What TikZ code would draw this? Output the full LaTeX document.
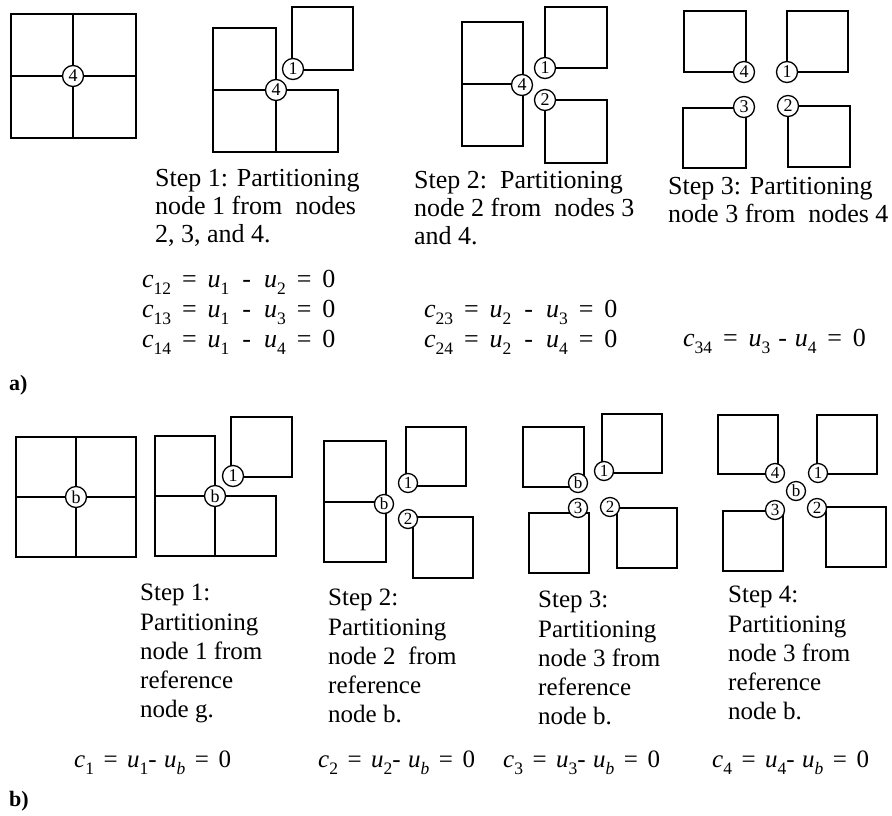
\documentclass[tikz,border=0pt]{standalone}
\usepackage{fontspec}
\setmainfont{Liberation Serif}

% variable with a lowered index, e.g. c_{12}
\newcommand{\sv}[2]{\textit{#1}\raisebox{-0.3em}{\fontsize{17.5}{17.5}\selectfont #2}}
\newcommand{\eqs}{\hspace{0.42em}=\hspace{0.42em}}
\newcommand{\eqb}{\hspace{0.38em}=\hspace{0.38em}}

\tikzset{
  cell/.style={draw, line width=1.6pt, line cap=rect},
  pin/.style={circle, draw, fill=white, line width=1.3pt, inner sep=0pt,
              minimum size=21pt, font=\fontsize{18}{18}\selectfont},
  pinsm/.style={pin, minimum size=19pt, font=\fontsize{17}{17}\selectfont},
  toptext/.style={anchor=north west, align=left, inner sep=0pt,
                  font=\fontsize{26}{28}\selectfont},
  bottext/.style={anchor=north west, align=left, inner sep=0pt,
                  font=\fontsize{25}{29.3}\selectfont},
  eqtop/.style={anchor=base west, inner sep=0pt, font=\fontsize{26}{28}\selectfont},
  eqbot/.style={anchor=base west, inner sep=0pt, font=\fontsize{25}{28}\selectfont},
  tag/.style={anchor=base west, inner sep=0pt, font=\bfseries\fontsize{22}{22}\selectfont}
}

\begin{document}
\begin{tikzpicture}[x=1pt, y=-1pt]
\path[use as bounding box] (0,0) rectangle (892,815);

% ---------------- a) four-node partitioning ----------------
% initial mesh
\draw[cell] (11,14) rectangle (136,138);
\draw[cell] (73,14) -- (73,138) (11,76) -- (136,76);
\node[pin] (a1n4) at (73,76) {4};

% step 1
\draw[cell] (213,28) rectangle (276,152);
\draw[cell] (213,90) -- (338,90) -- (338,152) -- (276,152);
\draw[cell] (292,7) rectangle (353,70);
\node[pin] (a2n4) at (276,90) {4};
\node[pin] (a2n1) at (293,69) {1};
\node[toptext] (a2t) at (155,169) {Step 1: Partitioning\\node 1 from\ \ nodes\\2, 3, and 4.};
\node[eqtop] (a2e1) at (142,287) {\sv{c}{12}\eqs\sv{u}{1}\hspace{0.5em}-\hspace{0.5em}\sv{u}{2}\eqs0};
\node[eqtop] (a2e2) at (142,317) {\sv{c}{13}\eqs\sv{u}{1}\hspace{0.5em}-\hspace{0.5em}\sv{u}{3}\eqs0};
\node[eqtop] (a2e3) at (142,347) {\sv{c}{14}\eqs\sv{u}{1}\hspace{0.5em}-\hspace{0.5em}\sv{u}{4}\eqs0};

% step 2
\draw[cell] (462,22) rectangle (523,146);
\draw[cell] (462,84) -- (523,84);
\draw[cell] (545,7) rectangle (607,68);
\draw[cell] (545,100) rectangle (607,163);
\node[pin] (a3n4) at (522,85) {4};
\node[pin] (a3n1) at (545,68) {1};
\node[pin] (a3n2) at (545,100) {2};
\node[toptext] (a3t) at (414,171) {Step 2:\ \ Partitioning\\node 2 from\ \ nodes 3\\and 4.};
\node[eqtop] (a3e1) at (424,317) {\sv{c}{23}\eqs\sv{u}{2}\hspace{0.5em}-\hspace{0.5em}\sv{u}{3}\eqs0};
\node[eqtop] (a3e2) at (424,347) {\sv{c}{24}\eqs\sv{u}{2}\hspace{0.5em}-\hspace{0.5em}\sv{u}{4}\eqs0};

% step 3
\draw[cell] (684,11) rectangle (746,72);
\draw[cell] (787,11) rectangle (848,72);
\draw[cell] (683,108) rectangle (746,168);
\draw[cell] (788,106) rectangle (850,167);
\node[pin] (a4n4) at (744,72) {4};
\node[pin] (a4n1) at (787,72) {1};
\node[pin] (a4n3) at (744,107) {3};
\node[pin] (a4n2) at (788,106) {2};
\node[toptext] (a4t) at (668,177) {Step 3: Partitioning\\node 3 from\ \ nodes 4};
\node[eqtop] (a4e1) at (683,346) {\sv{c}{34}\eqs\sv{u}{3}\hspace{0.3em}-\hspace{0.3em}\sv{u}{4}\eqs0};

\node[tag] (taga) at (9,390) {a)};

% ---------------- b) partitioning from reference node b ----------------
% initial mesh
\draw[cell] (16,437) rectangle (136,557);
\draw[cell] (76,437) -- (76,557) (16,497) -- (136,497);
\node[pin] (b1nb) at (76,497) {b};

% step 1
\draw[cell] (155,436) rectangle (215,556);
\draw[cell] (155,496) -- (276,496) -- (276,556) -- (215,556);
\draw[cell] (231,417) rectangle (292,477);
\node[pin] (b2nb) at (215,496) {b};
\node[pin] (b2n1) at (233,476) {1};
\node[bottext] (b2t) at (140,584) {Step 1:\\Partitioning\\node 1 from\\reference\\node g.};
\node[eqbot] (b2e) at (74,767) {\sv{c}{1}\eqb\sv{u}{1}-\hspace{0.3em}\sv{u}{\textit{b}}\eqb0};

% step 2
\draw[cell] (324,441) rectangle (386,562);
\draw[cell] (324,502) -- (386,502);
\draw[cell] (406,427) rectangle (466,486);
\draw[cell] (413,517) rectangle (473,578);
\node[pinsm] (b3nb) at (384,504) {b};
\node[pinsm] (b3n1) at (408,483) {1};
\node[pinsm] (b3n2) at (408,519) {2};
\node[bottext] (b3t) at (328,589) {Step 2:\\Partitioning\\node 2\ \ from\\reference\\node b.};
\node[eqbot] (b3e) at (318,767) {\sv{c}{2}\eqb\sv{u}{2}-\hspace{0.3em}\sv{u}{\textit{b}}\eqb0};

% step 3
\draw[cell] (523,427) rectangle (584,487);
\draw[cell] (602,414) rectangle (662,473);
\draw[cell] (529,513) rectangle (589,573);
\draw[cell] (617,508) rectangle (677,568);
\node[pinsm] (b4nb) at (578,483) {b};
\node[pinsm] (b4n1) at (604,471) {1};
\node[pinsm] (b4n3) at (578,508) {3};
\node[pinsm] (b4n2) at (610,507) {2};
\node[bottext] (b4t) at (538,591) {Step 3:\\Partitioning\\node 3 from\\reference\\node b.};
\node[eqbot] (b4e) at (503,767) {\sv{c}{3}\eqb\sv{u}{3}-\hspace{0.3em}\sv{u}{\textit{b}}\eqb0};

% step 4
\draw[cell] (718,415) rectangle (778,474);
\draw[cell] (817,415) rectangle (877,474);
\draw[cell] (723,511) rectangle (783,571);
\draw[cell] (826,507) rectangle (886,567);
\node[pinsm] (b5n4) at (775,473) {4};
\node[pinsm] (b5n1) at (818,473) {1};
\node[pinsm] (b5nb) at (796,491) {b};
\node[pinsm] (b5n3) at (775,510) {3};
\node[pinsm] (b5n2) at (817,508) {2};
\node[bottext] (b5t) at (728,586) {Step 4:\\Partitioning\\node 3 from\\reference\\node b.};
\node[eqbot] (b5e) at (712,767) {\sv{c}{4}\eqb\sv{u}{4}-\hspace{0.3em}\sv{u}{\textit{b}}\eqb0};

\node[tag] (tagb) at (9,806) {b)};
\end{tikzpicture}
\end{document}
